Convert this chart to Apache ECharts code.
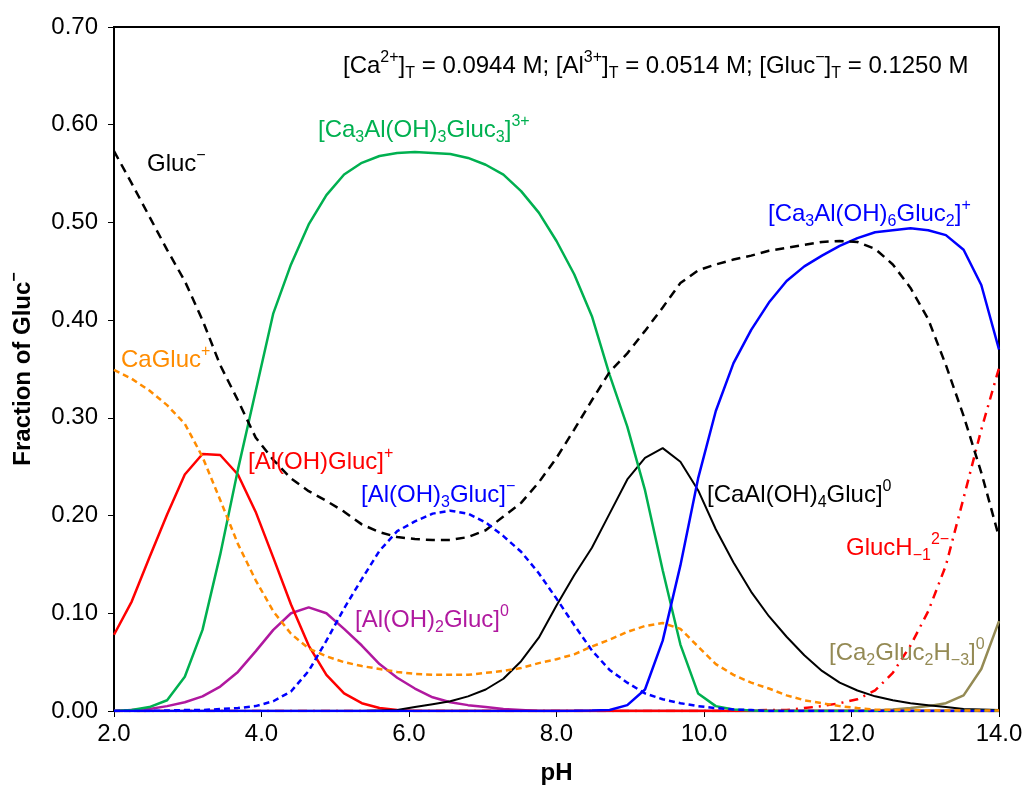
<!DOCTYPE html>
<html>
<head>
<meta charset="utf-8">
<script src="https://cdn.jsdelivr.net/npm/echarts@6/dist/echarts.min.js"></script>
<style>
html,body{margin:0;padding:0;background:#fff;}
#chart{width:1023px;height:787px;}
</style>
</head>
<body>
<div id="chart"></div>
<script>
// pH values (x)
const pH = [2.00,2.24,2.48,2.72,2.96,3.20,3.44,3.68,3.92,4.16,4.40,4.64,4.88,5.12,5.36,5.60,5.84,6.08,6.32,6.56,6.80,7.04,7.28,7.52,7.76,8.00,8.24,8.48,8.72,8.96,9.20,9.44,9.68,9.92,10.16,10.40,10.64,10.88,11.12,11.36,11.60,11.84,12.08,12.32,12.56,12.80,13.04,13.28,13.52,13.76,14.00];

const gluc = [0.573,0.540,0.506,0.472,0.440,0.400,0.354,0.318,0.280,0.257,0.238,0.225,0.215,0.204,0.191,0.183,0.178,0.176,0.175,0.175,0.178,0.185,0.199,0.213,0.234,0.259,0.288,0.318,0.347,0.366,0.389,0.413,0.438,0.451,0.457,0.462,0.466,0.471,0.474,0.477,0.480,0.481,0.480,0.473,0.457,0.433,0.401,0.354,0.302,0.244,0.178];

const caGluc = [0.349,0.340,0.328,0.313,0.294,0.260,0.216,0.171,0.134,0.102,0.079,0.064,0.056,0.050,0.046,0.043,0.040,0.038,0.037,0.037,0.037,0.039,0.041,0.044,0.049,0.053,0.058,0.066,0.073,0.081,0.087,0.090,0.084,0.066,0.048,0.037,0.029,0.023,0.016,0.011,0.008,0.005,0.003,0.0015,0.001,0.001,0.0005,0.0005,0.0005,0.0005,0.0005];

const alOHGluc = [0.078,0.112,0.157,0.201,0.242,0.263,0.262,0.242,0.204,0.157,0.109,0.067,0.037,0.018,0.008,0.003,0.001,0,0,0,0,0,0,0,0,0,0,0,0,0,0,0,0,0,0,0,0,0,0,0,0,0,0,0,0,0,0,0,0,0,0];

const ca3Al3 = [0,0.001,0.004,0.011,0.035,0.083,0.160,0.247,0.327,0.407,0.457,0.498,0.528,0.549,0.561,0.568,0.571,0.572,0.571,0.570,0.566,0.559,0.549,0.532,0.510,0.481,0.447,0.404,0.344,0.291,0.226,0.144,0.068,0.018,0.005,0.0015,0.0005,0,0,0,0,0,0,0,0,0,0,0,0,0,0];

const alOH2Gluc = [0,0.001,0.002,0.005,0.009,0.015,0.025,0.040,0.061,0.083,0.100,0.106,0.100,0.084,0.067,0.048,0.034,0.023,0.014,0.009,0.006,0.004,0.002,0.001,0,0,0,0,0,0,0,0,0,0,0,0,0,0,0,0,0,0,0,0,0,0,0,0,0,0,0];

const alOH3Gluc = [0,0,0,0.0005,0.001,0.001,0.002,0.003,0.005,0.010,0.020,0.041,0.072,0.105,0.135,0.164,0.184,0.194,0.202,0.205,0.202,0.193,0.179,0.163,0.141,0.115,0.088,0.062,0.042,0.029,0.018,0.012,0.008,0.005,0.003,0.0015,0.001,0,0,0,0,0,0,0,0,0,0,0,0,0,0];

const caAlOH4Gluc = [0,0,0,0,0,0,0,0,0,0,0,0,0,0,0,0.0005,0.001,0.004,0.007,0.010,0.015,0.022,0.033,0.051,0.075,0.108,0.139,0.167,0.202,0.237,0.259,0.269,0.255,0.226,0.186,0.152,0.122,0.097,0.076,0.057,0.041,0.029,0.021,0.015,0.011,0.008,0.006,0.004,0.002,0.0015,0.001];

const ca3Al6 = [0,0,0,0,0,0,0,0,0,0,0,0,0,0,0,0,0,0,0,0,0,0,0,0,0,0,0.0002,0.0005,0.001,0.006,0.022,0.072,0.149,0.238,0.307,0.356,0.390,0.418,0.440,0.455,0.466,0.476,0.484,0.490,0.492,0.494,0.492,0.487,0.472,0.436,0.370];

const glucH1 = [0,0,0,0,0,0,0,0,0,0,0,0,0,0,0,0,0,0,0,0,0,0,0,0,0,0,0,0,0,0,0,0,0,0,0,0,0.0005,0.001,0.001,0.003,0.005,0.008,0.012,0.021,0.039,0.067,0.102,0.149,0.218,0.288,0.351];

const ca2Gluc2 = [0,0,0,0,0,0,0,0,0,0,0,0,0,0,0,0,0,0,0,0,0,0,0,0,0,0,0,0,0,0,0,0,0,0,0,0,0,0,0,0,0,0,0,0.0005,0.0015,0.003,0.005,0.008,0.016,0.043,0.092];

const xTicks = [2, 4, 6, 8, 10, 12, 14];
const yTicks = [0, 0.1, 0.2, 0.3, 0.4, 0.5, 0.6, 0.7];

const FONT = '"Liberation Sans", Arial, sans-serif';
const FS = 24;
const SFS = 16;

function pairs(ys){ return pH.map((x,i)=>[x, ys[i]]); }

function mkSeries(name, ys, color, width, type){
  return {
    name: name, type: 'line', data: pairs(ys), showSymbol: false, symbol: 'none',
    lineStyle: {color: color, width: width, type: type || 'solid'},
    itemStyle: {color: color}, silent: true, animation: false
  };
}

function richFor(color){
  return {
    s: {fontSize: SFS, lineHeight: 15, verticalAlign: 'bottom', fontFamily: FONT, fill: color, color: color},
    p: {fontSize: SFS, lineHeight: 15, verticalAlign: 'top', fontFamily: FONT, fill: color, color: color}
  };
}
function label(text, x, y, color){
  return {
    type: 'text', x: x, y: y, silent: true, z: 100,
    style: {
      text: text, fill: color, fontSize: FS, fontFamily: FONT, lineHeight: 32,
      verticalAlign: 'middle', align: 'left', rich: richFor(color)
    }
  };
}

const chart = echarts.init(document.getElementById('chart'), null, {renderer: 'canvas'});
chart.setOption({
  animation: false,
  backgroundColor: '#fff',
  grid: {left: 114, right: 24, top: 27, bottom: 76, containLabel: false, outerBoundsMode: 'none',
    show: true, borderColor: '#000', borderWidth: 2, backgroundColor: 'transparent'},
  xAxis: {
    type: 'value', min: 2, max: 14, interval: 2,
    name: 'pH', nameLocation: 'middle', nameGap: 50,
    nameTextStyle: {fontSize: FS, fontWeight: 'bold', fontFamily: FONT, color: '#000'},
    axisLine: {show: true, lineStyle: {color: '#000', width: 2}},
    axisTick: {show: true, inside: false, length: 6, lineStyle: {color: '#000', width: 1}},
    axisLabel: {fontSize: FS, fontFamily: FONT, color: '#000', margin: 11,
      formatter: v => xTicks.includes(v) ? v.toFixed(1) : ''},
    splitLine: {show: false}
  },
  yAxis: {
    type: 'value', min: 0, max: 0.7, interval: 0.1,
    name: 'Fraction of Gluc{p|−}', nameLocation: 'middle', nameGap: 75, nameRotate: 90,
    nameTextStyle: {fontSize: FS, fontWeight: 'bold', fontFamily: FONT, color: '#000', lineHeight: 32,
      rich: {p: {fontSize: SFS, fontWeight: 'bold', verticalAlign: 'top', lineHeight: 15, fontFamily: FONT, color: '#000'}}},
    axisLine: {show: true, lineStyle: {color: '#000', width: 2}},
    axisTick: {show: true, inside: false, length: 6, lineStyle: {color: '#000', width: 1}},
    axisLabel: {fontSize: FS, fontFamily: FONT, color: '#000', margin: 16,
      formatter: v => v.toFixed(2)},
    splitLine: {show: false}
  },
  series: [
    mkSeries('[Ca2Gluc2H-3]0', ca2Gluc2, '#948A54', 2.5),
    mkSeries('GlucH-1 2-', glucH1, '#FF0000', 2.5, [9,6,2,6]),
    mkSeries('[Al(OH)2Gluc]0', alOH2Gluc, '#B0189F', 2.5),
    mkSeries('[Al(OH)Gluc]+', alOHGluc, '#FF0000', 2.5),
    mkSeries('[CaAl(OH)4Gluc]0', caAlOH4Gluc, '#000000', 2),
    mkSeries('[Ca3Al(OH)3Gluc3]3+', ca3Al3, '#00B050', 2.5),
    mkSeries('[Ca3Al(OH)6Gluc2]+', ca3Al6, '#0000FF', 2.5),
    mkSeries('Gluc-', gluc, '#000000', 2.5, [9,6]),
    mkSeries('[Al(OH)3Gluc]-', alOH3Gluc, '#0000FF', 2.5, [6,4]),
    mkSeries('CaGluc+', caGluc, '#FF8C00', 2.5, [6,4])
  ],
  graphic: [
    label('[Ca{p|2+}]{s|T} = 0.0944 M; [Al{p|3+}]{s|T} = 0.0514 M; [Gluc{p|−}]{s|T} = 0.1250 M', 343, 66, '#000'),
    label('Gluc{p|−}', 147, 164, '#000'),
    label('[Ca{s|3}Al(OH){s|3}Gluc{s|3}]{p|3+}', 318, 130, '#00B050'),
    label('[Ca{s|3}Al(OH){s|6}Gluc{s|2}]{p|+}', 768, 214, '#0000FF'),
    label('CaGluc{p|+}', 121, 360, '#FF8C00'),
    label('[Al(OH)Gluc]{p|+}', 248, 462, '#FF0000'),
    label('[Al(OH){s|3}Gluc]{p|−}', 361, 495, '#0000FF'),
    label('[CaAl(OH){s|4}Gluc]{p|0}', 707, 495, '#000'),
    label('GlucH{s|−1}{p|2−}', 846, 548, '#FF0000'),
    label('[Al(OH){s|2}Gluc]{p|0}', 355, 620, '#B0189F'),
    label('[Ca{s|2}Gluc{s|2}H{s|−3}]{p|0}', 829, 653, '#948A54')
  ]
});
</script>
</body>
</html>
